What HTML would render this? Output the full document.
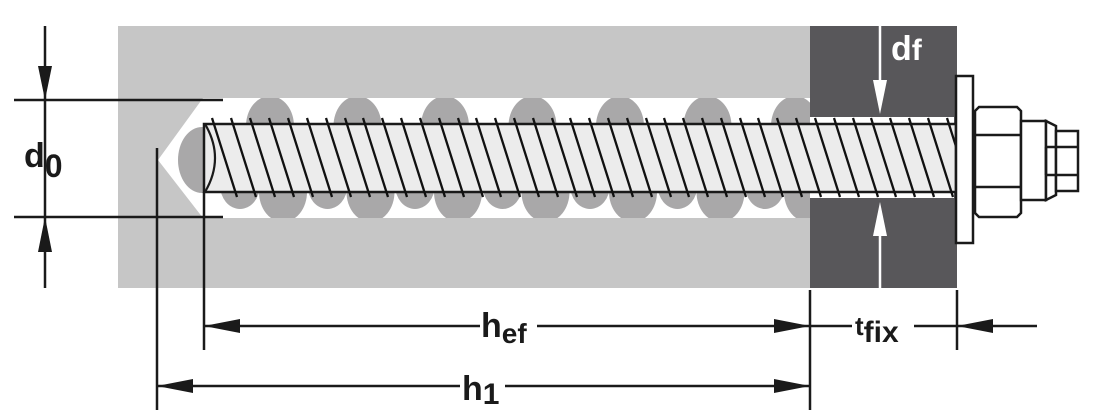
<!DOCTYPE html>
<html><head><meta charset="utf-8"><style>
html,body{margin:0;padding:0;background:#fff;}
svg{display:block;}
text{font-family:"Liberation Sans","DejaVu Sans",sans-serif;font-weight:bold;}
</style></head><body>
<svg width="1097" height="419" viewBox="0 0 1097 419" xmlns="http://www.w3.org/2000/svg">
<defs>
<clipPath id="hole"><polygon points="158,160 203,98 810,98 810,218 203,218"/></clipPath>
<clipPath id="rod"><rect x="204" y="116" width="752" height="84"/></clipPath>
</defs>
<rect x="118" y="26" width="692" height="262" fill="#c6c6c6"/>
<polygon points="158,160 203,98 810,98 810,218 203,218" fill="#fff"/>
<rect x="810" y="26" width="147" height="262" fill="#58575a"/>
<rect x="810" y="117" width="144" height="81" fill="#fff"/>
<g clip-path="url(#hole)" fill="#a9a8a9">
<ellipse cx="202" cy="160" rx="24" ry="33"/>
<g id="tb">
<ellipse cx="270" cy="126" rx="24" ry="30"/>
<ellipse cx="283" cy="192" rx="24" ry="30"/>
<ellipse cx="240" cy="185" rx="20" ry="24"/>
</g>
<use href="#tb" x="87.5"/><use href="#tb" x="175"/><use href="#tb" x="262.5"/><use href="#tb" x="350"/><use href="#tb" x="437.5"/><use href="#tb" x="525"/>
</g>
<rect x="204" y="124" width="752" height="68" fill="#ececec" stroke="#1a1a1a" stroke-width="2.5"/>
<path d="M205,124 Q225,158 205,192" fill="none" stroke="#1a1a1a" stroke-width="2.2"/>
<g clip-path="url(#rod)" stroke="#111" stroke-width="2.3">
<path d="M212,118l25,79M231,118l25,79M250,118l25,79M269,118l25,79M288,118l25,79M307,118l25,79M326,118l25,79M345,118l25,79M363,118l25,79M382,118l25,79M401,118l25,79M420,118l25,79M439,118l25,79M458,118l25,79M476,118l25,79M495,118l25,79M514,118l25,79M533,118l25,79M552,118l25,79M570,118l25,79M589,118l25,79M608,118l25,79M627,118l25,79M646,118l25,79M664,118l25,79M683,118l25,79M702,118l25,79M721,118l25,79M740,118l25,79M758,118l25,79M777,118l25,79M796,118l25,79M815,118l25,79M834,118l25,79M853,118l25,79M871,118l25,79M890,118l25,79M909,118l25,79M928,118l25,79M947,118l25,79"/>
</g>
<rect x="956" y="76" width="17" height="167" fill="#fff" stroke="#1a1a1a" stroke-width="2.5"/>
<polygon points="979,107 1017,107 1021,111 1021,213 1017,217 979,217 975,213 975,111" fill="#fff" stroke="#1a1a1a" stroke-width="2.5"/>
<path d="M975,135H1021M975,187H1021" stroke="#1a1a1a" stroke-width="2.5"/>
<rect x="1021" y="121" width="25" height="79" fill="#fff" stroke="#1a1a1a" stroke-width="2.5"/>
<polygon points="1046,121 1056,126 1056,195 1046,200" fill="#fff" stroke="#1a1a1a" stroke-width="2.5"/>
<rect x="1056" y="131" width="22" height="60" fill="#fff" stroke="#1a1a1a" stroke-width="2.5"/>
<path d="M1046,147H1078M1046,175H1078M1046,147V175" stroke="#1a1a1a" stroke-width="2.5" fill="none"/>
<path d="M880,26V85M880,288V230" stroke="#fff" stroke-width="2.5"/>
<polygon points="873,80 887,80 880,114" fill="#fff"/>
<polygon points="873,236 887,236 880,202" fill="#fff"/>
<text x="891" y="60" font-size="34" fill="#fff">d<tspan font-size="30">f</tspan></text>
<g stroke="#1a1a1a" stroke-width="2.5" fill="none">
<path d="M14,100H223M14,217H223M45,26V288"/>
<path d="M157,148V410M204,192V350M810,290V410M957,290V350"/>
<path d="M204,326H480M537,326H810M810,326H852M914,326H1037"/>
<path d="M157,386H460M505,386H810"/>
</g>
<g fill="#1a1a1a">
<polygon points="38,66 52,66 45,100"/>
<polygon points="38,252 52,252 45,217"/>
<polygon points="204,326 240,319 240,333"/>
<polygon points="810,326 774,319 774,333"/>
<polygon points="957,326 993,319 993,333"/>
<polygon points="157,386 193,379 193,393"/>
<polygon points="810,386 774,379 774,393"/>
</g>
<g fill="#1a1a1a">
<text x="24" y="167" font-size="34">d<tspan font-size="32" dy="10">0</tspan></text>
<text x="481" y="337" font-size="34">h<tspan font-size="28" dy="6">ef</tspan></text>
<text x="462" y="400" font-size="34">h<tspan font-size="30" dy="4">1</tspan></text>
<text x="855" y="335" font-size="26">t<tspan font-size="30" dy="7">fix</tspan></text>
</g>
</svg>
</body></html>
